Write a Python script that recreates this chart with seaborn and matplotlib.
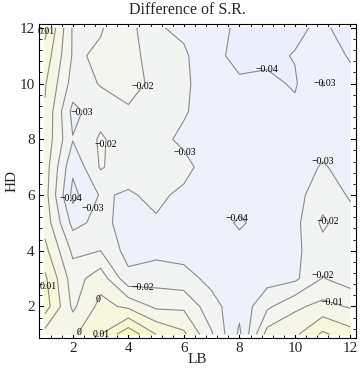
import numpy as np
import matplotlib
matplotlib.use("Agg")
import matplotlib.pyplot as plt
from matplotlib.ticker import MultipleLocator
import seaborn as sns

# grid axes
lb = [1, 2, 3, 4, 5, 6, 7, 8, 9, 10, 11, 12]
hd = [1, 2, 3, 4, 5, 6, 7, 8, 9, 10, 11, 12]

# difference of S.R. for each LB column, HD = 1..12
lb_01 = [-0.004, 0.015, 0.012, 0.003, -0.004, -0.006, -0.005, -0.003, -0.001, 0.001, 0.006, 0.013]
lb_02 = [-0.002, -0.012, -0.015, -0.022, -0.033, -0.043, -0.038, -0.0295, -0.033, -0.024, -0.021, -0.021]
lb_03 = [0.010, 0.003, -0.004, -0.020, -0.027, -0.029, -0.019, -0.0185, -0.024, -0.0195, -0.019, -0.0205]
lb_04 = [0.027, -0.002, -0.027, -0.034, -0.034, -0.031, -0.026, -0.026, -0.021, -0.017, -0.016, -0.016]
lb_05 = [0.010, -0.012, -0.024, -0.033, -0.031, -0.028, -0.027, -0.027, -0.025, -0.022, -0.025, -0.029]
lb_06 = [0.002, -0.012, -0.026, -0.034, -0.035, -0.032, -0.027, -0.032, -0.029, -0.028, -0.0285, -0.032]
lb_07 = [-0.019, -0.026, -0.033, -0.036, -0.036, -0.036, -0.035, -0.034, -0.035, -0.036, -0.037, -0.036]
lb_08 = [-0.042, -0.037, -0.036, -0.037, -0.041, -0.037, -0.036, -0.036, -0.037, -0.0385, -0.043, -0.042]
lb_09 = [-0.006, -0.022, -0.034, -0.036, -0.037, -0.036, -0.036, -0.036, -0.037, -0.038, -0.042, -0.044]
lb_10 = [-0.002, -0.012, -0.032, -0.032, -0.033, -0.033, -0.035, -0.036, -0.038, -0.041, -0.0395, -0.042]
lb_11 = [0.012, -0.007, -0.0195, -0.024, -0.018, -0.025, -0.029, -0.034, -0.034, -0.0295, -0.035, -0.038]
lb_12 = [0.004, -0.011, -0.025, -0.026, -0.027, -0.031, -0.034, -0.036, -0.035, -0.037, -0.041, -0.045]

levels = [-0.04, -0.03, -0.02, -0.01, 0.0, 0.01, 0.02]
band_colors = ["#EBEEFB", "#EEF0FA", "#F2F3F3", "#F4F5EE", "#F5F6E6",
               "#F7F7DC", "#F8F8CF", "#FAFAC0"]

# where the contour labels sit (snapped to nearest line)
label_spots = [(1.1, 11.86), (4.4, 10.0), (9.0, 10.65), (11.2, 10.0),
               (2.3, 8.98), (3.2, 7.8), (6.0, 7.5), (11.0, 7.25),
               (2.0, 5.9), (2.8, 5.5), (8.0, 5.1), (11.1, 5.0),
               (11.0, 3.1), (11.3, 2.0), (4.5, 2.5), (1.05, 2.7),
               (2.8, 2.3), (2.1, 1.14), (2.98, 1.07)]

sns.set_theme(style="ticks")
plt.rcParams["font.family"] = ["Liberation Serif", "DejaVu Serif"]

z = np.column_stack([lb_01, lb_02, lb_03, lb_04, lb_05, lb_06,
                     lb_07, lb_08, lb_09, lb_10, lb_11, lb_12])
X, Y = np.meshgrid(lb, hd)

fig = plt.figure(figsize=(3.6, 3.8), dpi=100)
ax = fig.add_axes([0.108, 0.11, 0.881, 0.827])

fill_levels = [-1.0] + levels + [1.0]
ax.contourf(X, Y, z, levels=fill_levels, colors=band_colors)
cs = ax.contour(X, Y, z, levels=levels, colors="#8a8a8a",
                linewidths=0.8, linestyles="solid")


def fmt(v):
    if abs(v) < 1e-9:
        return "0"
    return f"{v:.2f}".replace("-", "\u2212")


txts = ax.clabel(cs, inline=False, fontsize=7, fmt=fmt, manual=label_spots)
for t in txts:
    t.set_color("black")
    t.set_rotation(0)
    t.set_clip_on(False)

ax.set_xlim(0.78, 12.2)
ax.set_ylim(0.86, 12.14)
ax.xaxis.set_major_locator(MultipleLocator(2))
ax.yaxis.set_major_locator(MultipleLocator(2))
ax.xaxis.set_minor_locator(MultipleLocator(0.4))
ax.yaxis.set_minor_locator(MultipleLocator(0.4))
ax.tick_params(which="both", direction="in", top=True, right=True,
               color="black", labelsize=11, pad=3)
ax.tick_params(which="major", length=4, width=0.8)
ax.tick_params(which="minor", length=2, width=0.6)
for s in ax.spines.values():
    s.set_color("black")
    s.set_linewidth(0.8)

ax.set_xlabel("LB", fontsize=11, labelpad=-2)
ax.set_ylabel("HD", fontsize=11, labelpad=1)
fig.text(0.52, 0.995, "Difference of S.R.", fontsize=11.5, ha="center", va="top")

fig.savefig("out.png", dpi=100)
